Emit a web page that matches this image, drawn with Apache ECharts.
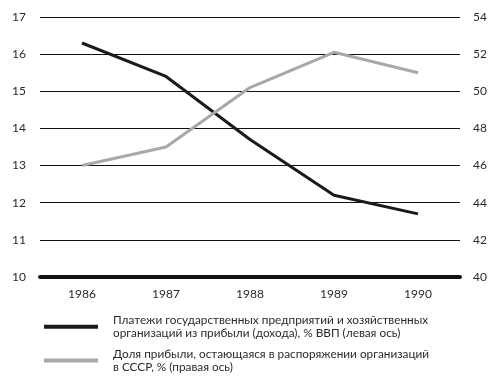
<!DOCTYPE html>
<html><head><meta charset="utf-8">
<script src="https://cdn.jsdelivr.net/npm/echarts@6/dist/echarts.min.js"></script>
<style>html,body{margin:0;padding:0;background:#fff}#c{width:500px;height:384px}</style>
</head><body><div id="c"></div>
<script>
var categories = ['1986', '1987', '1988', '1989', '1990'];
var paymentsGDP = [16.3, 15.4, 13.7, 12.2, 11.7];
var profitShare = [46.0, 47.0, 50.2, 52.1, 51.0];
var seriesNames = [
  'Платежи государственных предприятий и хозяйственных\nорганизаций из прибыли (дохода), % ВВП (левая ось)',
  'Доля прибыли, остающаяся в распоряжении организаций\nв СССР, % (правая ось)'
];
var FONT = 'Lato';
var chart = echarts.init(document.getElementById('c'));
chart.setOption({
  animation: false,
  backgroundColor: '#fff',
  textStyle: { fontFamily: FONT },
  grid: { left: 40, right: 40, top: 17, bottom: 107 },
  legend: {
    orient: 'vertical', left: 39, top: 309, itemGap: 8,
    itemWidth: 54, itemHeight: 4, icon: 'rect',
    textStyle: { fontSize: 11.8, color: '#2a2a2a', lineHeight: 12.8, fontFamily: FONT, padding: [0, 0, 0, 10] },
    data: seriesNames
  },
  xAxis: {
    type: 'category', data: categories, boundaryGap: true,
    axisLine: { lineStyle: { color: '#111', width: 4 } },
    axisTick: { show: false },
    axisLabel: { color: '#2a2a2a', fontSize: 12, margin: 11 }
  },
  yAxis: [{
    type: 'value', min: 10, max: 17, interval: 1, position: 'left',
    axisLine: { show: false }, axisTick: { show: false },
    axisLabel: { color: '#2a2a2a', fontSize: 12, margin: 14 },
    splitLine: { lineStyle: { color: '#111', width: 1 } }
  }, {
    type: 'value', min: 40, max: 54, interval: 2, position: 'right',
    axisLine: { show: false }, axisTick: { show: false },
    axisLabel: { color: '#2a2a2a', fontSize: 12, margin: 13 },
    splitLine: { show: false }
  }],
  series: [{
    name: seriesNames[0], type: 'line', yAxisIndex: 0, data: paymentsGDP,
    symbol: 'none', lineStyle: { color: '#1a1a1a', width: 3 }, itemStyle: { color: '#1a1a1a' }
  }, {
    name: seriesNames[1], type: 'line', yAxisIndex: 1, data: profitShare,
    symbol: 'none', lineStyle: { color: '#a8a8a8', width: 3 }, itemStyle: { color: '#a8a8a8' }
  }]
});
</script></body></html>
